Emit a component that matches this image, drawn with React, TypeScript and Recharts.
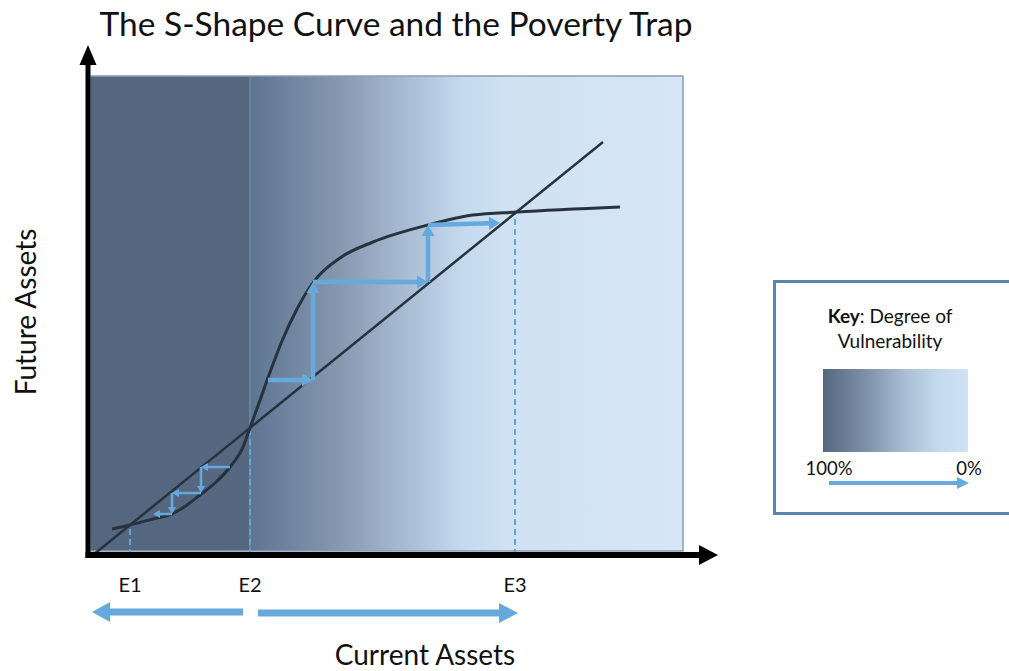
import React from 'react';
import { ComposedChart, Line, XAxis, YAxis, ReferenceArea, ReferenceLine } from 'recharts';

// S-curve (future assets as a function of current assets)
const curveX = [24, 42, 65, 84, 99, 112, 127, 142, 155, 162, 171, 181, 194, 209, 224, 252, 285, 340, 385, 429, 532];
const curveY = [26, 30, 36, 41, 50, 60, 72, 88, 108, 127, 152, 180, 214, 246, 271, 297, 313, 330, 340, 343, 348];

// 45-degree style line (future = current)
const diagX = [5, 515];
const diagY = [0, 413];

// equilibria
const eTicks = [42, 162, 427];
const eLabels = ['E1', 'E2', 'E3'];
const eLevels = [30, 127, 343];

// step arrows: [x1, y1, x2, y2]
const trapSteps = [
  [142, 88, 113, 88],
  [113, 88, 113, 62],
  [113, 62, 84, 62],
  [84, 62, 84, 41],
  [84, 41, 65, 41],
];
const growthSteps = [
  [180, 175, 225, 175],
  [225, 175, 225, 273],
  [225, 273, 340, 273],
  [340, 273, 340, 330],
  [340, 330, 412, 332],
];

const curveData = curveX.map((x, i) => ({ x, y: curveY[i] }));
const diagData = diagX.map((x, i) => ({ x, y: diagY[i] }));

const FONT = 'Lato, "Open Sans", sans-serif';
const BLUE = '#66aadd';
const INK = '#28323e';

const arrowShape = (color: string, w: number, hl: number, hw: number) => (p: any) => {
  const { x1, y1, x2, y2 } = p;
  const dx = x2 - x1, dy = y2 - y1;
  const len = Math.hypot(dx, dy) || 1;
  const ux = dx / len, uy = dy / len;
  const bx = x2 - ux * hl, by = y2 - uy * hl;
  const nx = (-uy * hw) / 2, ny = (ux * hw) / 2;
  return (
    <g>
      <line x1={x1} y1={y1} x2={bx} y2={by} stroke={color} strokeWidth={w} />
      <polygon points={`${x2},${y2} ${bx + nx},${by + ny} ${bx - nx},${by - ny}`} fill={color} />
    </g>
  );
};

const seg = (s: number[]) => [{ x: s[0], y: s[1] }, { x: s[2], y: s[3] }];

export default function App() {
  return (
    <div style={{ position: 'absolute', left: 0, top: 0, width: 1009, height: 671, overflow: 'hidden', background: '#fff', fontFamily: FONT }}>
      <ComposedChart width={1009} height={671} margin={{ top: 45, right: 291, left: 88, bottom: 86 }}>
        <defs>
          <linearGradient id="vuln" x1="0" y1="0" x2="1" y2="0">
            <stop offset="0" stopColor="#556780" />
            <stop offset="0.27" stopColor="#566880" />
            <stop offset="0.272" stopColor="#5e7592" />
            <stop offset="0.42" stopColor="#8698b0" />
            <stop offset="0.56" stopColor="#b0c5dc" />
            <stop offset="0.63" stopColor="#c4daef" />
            <stop offset="0.70" stopColor="#cfe1f2" />
            <stop offset="1" stopColor="#d7e6f4" />
          </linearGradient>
        </defs>
        <XAxis type="number" dataKey="x" domain={[0, 630]} allowDataOverflow height={30}
          ticks={eTicks} interval={0} axisLine={false} tickLine={false} tickMargin={17}
          tickFormatter={(v: number) => eLabels[eTicks.indexOf(v)]}
          tick={{ fontSize: 20, fill: '#111', fontFamily: FONT }} />
        <YAxis type="number" dataKey="y" domain={[0, 510]} allowDataOverflow hide />

        <ReferenceArea x1={2} x2={595} y1={4} y2={479} fill="url(#vuln)" fillOpacity={1} stroke="#8c9db2" strokeWidth={1.5} ifOverflow="visible" />
        <ReferenceLine segment={[{ x: 162, y: 4 }, { x: 162, y: 479 }]} stroke="#6f8cad" strokeWidth={1.5} ifOverflow="visible" />

        {eTicks.map((x, i) => (
          <ReferenceLine key={x} segment={[{ x, y: 0 }, { x, y: eLevels[i] }]} stroke="#5ea6de" strokeWidth={2} strokeDasharray="6 4" ifOverflow="visible" />
        ))}

        <Line data={diagData} dataKey="y" type="linear" stroke={INK} strokeWidth={2.5} dot={false} activeDot={false} isAnimationActive={false} />
        <Line data={curveData} dataKey="y" type="monotone" stroke={INK} strokeWidth={3} dot={false} activeDot={false} isAnimationActive={false} />

        {trapSteps.map((s, i) => (
          <ReferenceLine key={'t' + i} segment={seg(s)} shape={arrowShape(BLUE, 2.5, 7, 8)} ifOverflow="visible" />
        ))}
        {growthSteps.map((s, i) => (
          <ReferenceLine key={'g' + i} segment={seg(s)} shape={arrowShape(BLUE, 4.5, 11, 13)} ifOverflow="visible" />
        ))}

        {/* axes */}
        <ReferenceLine segment={[{ x: 0, y: -3 }, { x: 0, y: 510 }]} shape={arrowShape('#000', 5, 20, 17)} ifOverflow="visible" />
        <ReferenceLine segment={[{ x: -2.5, y: 0 }, { x: 630, y: 0 }]} shape={arrowShape('#000', 6, 19, 20)} ifOverflow="visible" />

        {/* direction arrows below the axis */}
        <ReferenceLine segment={[{ x: 155, y: -57 }, { x: 4, y: -57 }]} shape={arrowShape(BLUE, 7, 18, 20)} ifOverflow="visible" />
        <ReferenceLine segment={[{ x: 170, y: -58 }, { x: 430, y: -58 }]} shape={arrowShape(BLUE, 7, 19, 20)} ifOverflow="visible" />
      </ComposedChart>

      <svg width={1009} height={671} style={{ position: 'absolute', left: 0, top: 0, pointerEvents: 'none' }} fontFamily={FONT}>
        <defs>
          <linearGradient id="keyGrad" x1="0" y1="0" x2="1" y2="0">
            <stop offset="0" stopColor="#566880" />
            <stop offset="0.3" stopColor="#7d91a9" />
            <stop offset="0.55" stopColor="#a7bcd2" />
            <stop offset="0.8" stopColor="#c3daef" />
            <stop offset="1" stopColor="#cfe2f3" />
          </linearGradient>
        </defs>
        <text x={396} y={36} textAnchor="middle" fontSize={33.5} fill="#111">The S-Shape Curve and the Poverty Trap</text>
        <text x={36} y={312} textAnchor="middle" fontSize={28} fill="#111" transform="rotate(-90 36 312)">Future Assets</text>
        <text x={425} y={665} textAnchor="middle" fontSize={28} fill="#111">Current Assets</text>

        <rect x={774.5} y={281.5} width={260} height={232} fill="#fff" stroke="#5a85ae" strokeWidth={3} />
        <text x={890} y={323} textAnchor="middle" fontSize={19} fill="#111"><tspan fontWeight="bold">Key</tspan>: Degree of</text>
        <text x={890} y={348} textAnchor="middle" fontSize={19} fill="#111">Vulnerability</text>
        <rect x={823} y={369} width={145} height={83} fill="url(#keyGrad)" />
        <text x={829} y={475} textAnchor="middle" fontSize={18.5} fill="#111">100%</text>
        <text x={969} y={475} textAnchor="middle" fontSize={18.5} fill="#111">0%</text>
        <line x1={829} y1={483} x2={958} y2={483} stroke={BLUE} strokeWidth={4} />
        <polygon points="969,483 957,477 957,489" fill={BLUE} />
      </svg>
    </div>
  );
}
